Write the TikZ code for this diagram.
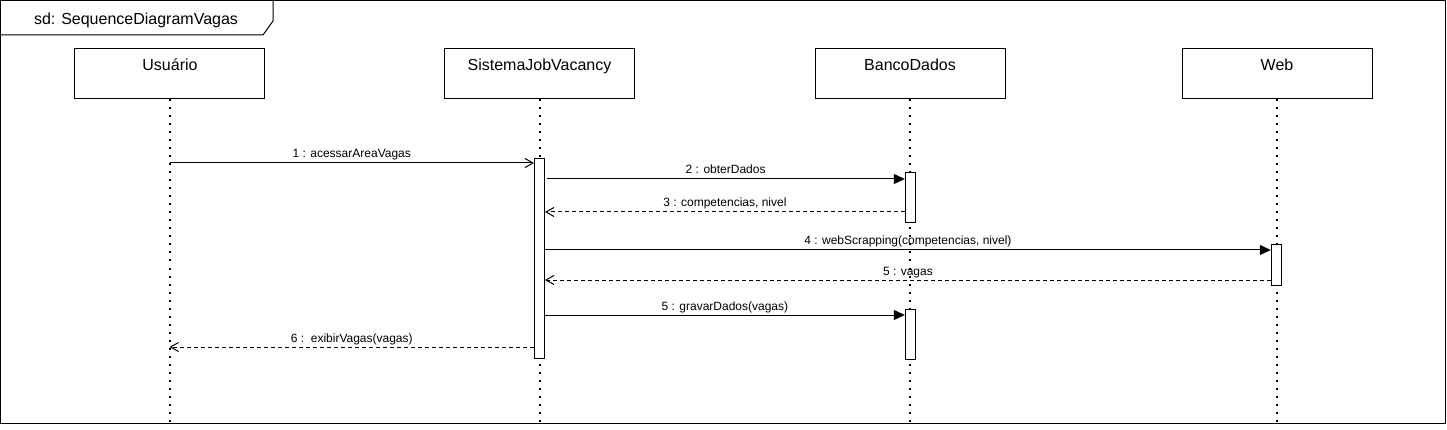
\documentclass[tikz,border=0pt]{standalone}
\usepackage{fontspec}
\setmainfont{Liberation Sans}
\usetikzlibrary{arrows.meta}
\begin{document}
\begin{tikzpicture}[x=1pt,y=-1pt,line width=1pt,
  header/.style={draw,fill=white,minimum width=190pt,minimum height=50pt,inner sep=0pt},
  hdtext/.style={anchor=base,font=\fontsize{16}{19}\selectfont,inner sep=0pt},
  lifeline/.style={line width=2pt,dash pattern=on 2pt off 6pt},
  act/.style={draw,fill=white,minimum width=10pt,inner sep=0pt},
  call/.style={-{Triangle[length=11pt,width=10pt]}},
  reply/.style={dash pattern=on 4pt off 3pt,-{Straight Barb[length=8pt,width=9pt]}},
  sync/.style={-{Straight Barb[length=8pt,width=9pt]}},
  mlabel/.style={midway,anchor=base,yshift=5pt,font=\fontsize{12}{14}\selectfont,inner sep=0pt}]
\useasboundingbox (0,0) rectangle (1447,430);
% frame
\draw (0.5,0.5) rectangle (1445.5,423.5);
\draw (0.5,35) -- (263,35) -- (273,21) -- (273,0.5);
\node[hdtext] (title) at (136,25) {sd: SequenceDiagramVagas};
% lifeline heads
\node[header] (usr) at (169.5,74) {};
\node[header] (sys) at (539.5,74) {};
\node[header] (db) at (910,74) {};
\node[header] (web) at (1277,74) {};
\node[hdtext] (usrt) at (170,71) {Usuário};
\node[hdtext] (syst) at (539.5,71) {SistemaJobVacancy};
\node[hdtext] (dbt) at (910,71) {BancoDados};
\node[hdtext] (webt) at (1277,71) {Web};
% lifelines
\coordinate (bot) at (0,423);
\draw[lifeline] (usr.south) -- (usr.south |- bot);
\draw[lifeline] (sys.south) -- (sys.south |- bot);
\draw[lifeline] (db.south) -- (db.south |- bot);
\draw[lifeline] (web.south) -- (web.south |- bot);
% activations
\node[act,minimum height=200pt] (sysact) at (539.5,258.3) {};
\node[act,minimum height=50pt] (dbact1) at (910.3,197.7) {};
\node[act,minimum height=40pt] (webact) at (1276.3,265) {};
\node[act,minimum height=50pt] (dbact2) at (910.3,334.3) {};
% message levels
\coordinate (m1) at (0,163);
\coordinate (m2) at (0,179);
\coordinate (m3) at (0,212);
\coordinate (m4) at (0,250);
\coordinate (m5) at (0,280);
\coordinate (m6) at (0,315);
\coordinate (m7) at (0,347);
% messages
\draw[sync] (usr.south |- m1) -- node[mlabel] {1 : acessarAreaVagas} (sysact.west |- m1);
\draw[call] ([xshift=1.5pt]sysact.east |- m2) -- node[mlabel] {2 : obterDados} (dbact1.west |- m2);
\draw[reply] (dbact1.west |- m3) -- node[mlabel] {3 : competencias, nivel} (sysact.east |- m3);
\draw[call] (sysact.east |- m4) -- node[mlabel] {4 : webScrapping(competencias, nivel)} (webact.west |- m4);
\draw[reply] (webact.west |- m5) -- node[mlabel] {5 : vagas} (sysact.east |- m5);
\draw[call] (sysact.east |- m6) -- node[mlabel] {5 : gravarDados(vagas)} (dbact2.west |- m6);
\draw[reply] (sysact.west |- m7) -- node[mlabel] {6 :\ \ exibirVagas(vagas)} (usr.south |- m7);
\end{tikzpicture}
\end{document}
